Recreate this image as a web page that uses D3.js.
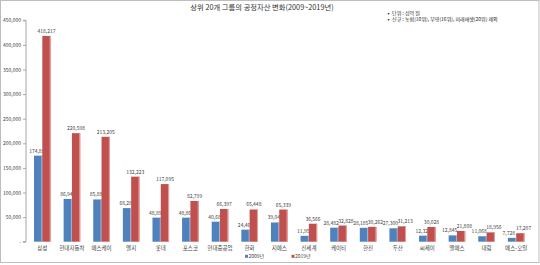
<!DOCTYPE html>
<html><head><meta charset="utf-8">
<script src="https://cdn.jsdelivr.net/npm/d3@7"></script>
<style>
html,body{margin:0;padding:0;background:#fff;}
svg{display:block;font-family:"Noto Sans CJK KR","Noto Sans",sans-serif;}
</style></head>
<body>
<svg id="chart" width="540" height="265"></svg>
<script>
const categories = ["삼성","현대자동차","에스케이","엘지","롯데","포스코","현대중공업","한화","지에스","신세계","케이티","한진","두산","씨제이","엘에스","대림","에스-오일"];
const values2009 = [174886,86945,85889,68289,48892,48862,40682,24467,39044,11956,28482,28185,27300,12324,12845,11068,7728];
const values2019 = [418217,220598,213205,132223,117095,82799,66397,65448,65339,36566,32828,30262,31213,30028,21808,18956,17207];
const seriesNames = ["2009년","2019년"];
const yTicks = [0,50000,100000,150000,200000,250000,300000,350000,400000,450000];
const title = "상위 20개 그룹의 공정자산 변화(2009~2019년)";
const notes = ["▪ 단위 : 십억 원","▪ 신규 : 농협(10위), 부영(16위), 미래에셋(20위) 제외"];

const colors = ["#4F81BD","#C0504D"];
const edge = ["#9FBBE0","#E6A3A1"];
const svg = d3.select("#chart");

svg.append("rect").attr("x",0.5).attr("y",0.5).attr("width",538.5).attr("height",262)
  .attr("fill","#fff").attr("stroke","#BDBDBD").attr("stroke-width",1);

const y = d3.scaleLinear().domain([0,450000]).range([241.7,20.3]);
const x = d3.scaleBand().domain(categories).range([27.5,531]);
const barW = 8.3;
const x1 = d3.scaleBand().domain([0,1]).range([0,barW*2]);

// y axis
const fmt = d3.format(",");
const yAxis = d3.axisLeft(y).tickValues(yTicks).tickSize(3).tickPadding(2)
  .tickFormat(d => d===0 ? "-" : fmt(d));
const yg = svg.append("g").attr("transform","translate(26,0)").call(yAxis);
yg.select(".domain").attr("stroke","#A6A6A6").attr("d","M-3,"+y(450000)+"H0V"+y(0)+"H-3");
yg.selectAll(".tick line").attr("stroke","#A6A6A6");
yg.selectAll(".tick text").attr("fill","#404040").attr("font-size","5px")
  .attr("font-family","'Noto Sans CJK KR',sans-serif");

// bars
const data = categories.map((c,i)=>({c, v:[values2009[i],values2019[i]]}));
const groups = svg.append("g").selectAll("g").data(data).join("g")
  .attr("transform", d => `translate(${x(d.c)+x.bandwidth()/2-barW},0)`);
[0,1].forEach(s=>{
  groups.append("rect")
    .attr("x", x1(s)).attr("y", d=>y(d.v[s]))
    .attr("width", barW).attr("height", d=>y(0)-y(d.v[s]))
    .attr("fill", colors[s]);
  groups.append("rect")
    .attr("x", x1(s)+barW-1).attr("y", d=>y(d.v[s]))
    .attr("width", 1).attr("height", d=>y(0)-y(d.v[s]))
    .attr("fill", edge[s]);
  groups.append("text")
    .attr("x", d=>{
      const close = Math.abs(y(d.v[0])-y(d.v[1])) < 6;
      return x1(s)+barW/2 + (close ? (s===0?-3.2:3.2) : 0);
    })
    .attr("y", d=>y(d.v[s])-3)
    .attr("text-anchor","middle").attr("font-size","5px").attr("fill","#404040")
    .text(d=>fmt(d.v[s]));
});

// category labels
svg.append("g").selectAll("text").data(categories).join("text")
  .attr("x", d=>x(d)+x.bandwidth()/2).attr("y", 249.5)
  .attr("text-anchor","middle").attr("font-size","5.5px").attr("fill","#404040")
  .text(d=>d);

// title
svg.append("text").attr("x",262).attr("y",9.5).attr("text-anchor","middle")
  .attr("font-size","7.3px").attr("fill","#333").text(title);

// notes
svg.append("g").selectAll("text").data(notes).join("text")
  .attr("x",386).attr("y",(d,i)=>15+i*6.2)
  .attr("font-size","5px").attr("fill","#262626").text(d=>d);

// legend
const leg = svg.append("g").selectAll("g").data(seriesNames).join("g")
  .attr("transform",(d,i)=>`translate(${245+i*46.5},258)`);
leg.append("rect").attr("x",0).attr("y",-3.2).attr("width",3).attr("height",3)
  .attr("fill",(d,i)=>colors[i]);
leg.append("text").attr("x",3.5).attr("y",0).attr("font-size","5px").attr("fill","#404040").text(d=>d);
</script>
</body></html>
